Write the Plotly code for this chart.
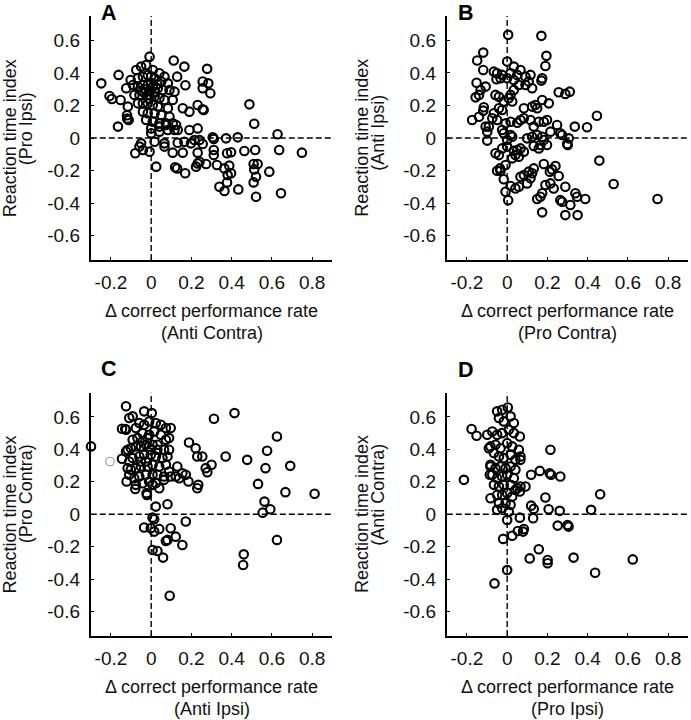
import plotly.graph_objects as go

# ---------------- data ----------------
a_points = [
    (-0.248, 0.336), (-0.162, 0.388), (-0.207, 0.258), (-0.195, 0.24), (-0.152, 0.234), (-0.165, 0.07),
    (-0.119, 0.119), (-0.112, 0.111), (-0.12, 0.14), (-0.116, 0.193), (-0.124, 0.306), (-0.102, 0.357),
    (-0.008, 0.5), (0.112, 0.476), (0.165, 0.439), (0.129, 0.377), (0.17, 0.324), (0.278, 0.425),
    (0.256, 0.347), (0.284, 0.336), (0.256, 0.306), (0.294, 0.275), (0.231, 0.203), (0.256, 0.176),
    (0.261, 0.172), (0.19, 0.162), (0.157, 0.183), (0.488, 0.207), (0.512, 0.088), (0.628, 0.023),
    (0.636, -0.074), (0.749, -0.09), (0.645, -0.34), (0.521, -0.361), (0.517, -0.074), (0.509, -0.16),
    (0.529, -0.16), (0.512, -0.193), (0.521, -0.238), (0.509, -0.273), (0.587, -0.207), (0.463, -0.08),
    (0.43, 0.004), (0.372, -0.002), (0.306, 0.004), (0.311, -0.006), (0.311, -0.074), (0.311, -0.105),
    (0.377, -0.094), (0.397, -0.088), (0.388, -0.17), (0.364, -0.187), (0.397, -0.217), (0.38, -0.228),
    (0.377, -0.273), (0.339, -0.3), (0.364, -0.326), (0.433, -0.316), (0.273, -0.16), (0.231, -0.156),
    (0.223, -0.176), (0.327, -0.166), (0.169, -0.217), (0.119, -0.18), (0.129, -0.187), (0.025, -0.176),
    (-0.079, -0.094), (-0.05, -0.033), (-0.058, -0.053), (-0.041, -0.074), (-0.008, -0.084),
    (0.017, -0.023), (0.066, -0.033), (0.066, -0.053), (0.107, -0.09), (0.157, -0.09), (0.132, -0.029),
    (0.165, -0.023), (0.198, -0.033), (0.215, -0.012), (0.24, -0.012), (0.256, -0.037), (0.231, -0.09),
    (0.24, -0.146), (0.083, 0.049), (0.124, 0.08), (0.132, 0.049), (0.19, 0.049), (0.231, 0.059),
    (0.0, 0.029), (0.041, 0.07), (0.074, 0.08),
    (-0.074, 0.418), (-0.05, 0.439), (-0.025, 0.449), (0.008, 0.418), (0.041, 0.398), (0.066, 0.377),
    (-0.066, 0.367), (-0.041, 0.377), (-0.017, 0.388), (0.017, 0.367), (0.05, 0.347), (0.083, 0.336),
    (-0.091, 0.326), (-0.066, 0.316), (-0.041, 0.326), (-0.017, 0.326), (0.008, 0.316), (0.033, 0.306),
    (0.058, 0.295), (0.091, 0.295), (0.116, 0.285), (-0.083, 0.265), (-0.058, 0.265), (-0.033, 0.275),
    (-0.008, 0.265), (0.017, 0.254), (0.041, 0.244), (0.066, 0.234), (0.107, 0.234), (-0.066, 0.213),
    (-0.041, 0.213), (-0.017, 0.213), (0.008, 0.203), (0.033, 0.193), (0.083, 0.183), (-0.041, 0.162),
    (-0.017, 0.152), (0.017, 0.152), (0.05, 0.142), (0.091, 0.131), (-0.025, 0.111), (0.008, 0.1),
    (0.041, 0.09), (0.074, 0.09), (0.107, 0.09), (0.0, 0.059), (0.041, 0.039), (0.116, 0.049),
    (-0.008, 0.29), (0.0, 0.34), (-0.03, 0.30), (0.02, 0.28), (-0.01, 0.24), (0.03, 0.33), (-0.05, 0.29),
    (0.0, 0.38),
]

b_points = [
    (0.005, 0.634), (0.17, 0.628), (-0.119, 0.525), (-0.149, 0.476), (-0.119, 0.418), (0.195, 0.505),
    (0.19, 0.443), (0.174, 0.367), (0.17, 0.353), (-0.152, 0.34), (-0.107, 0.316), (-0.132, 0.295),
    (-0.157, 0.25), (-0.14, 0.265), (-0.116, 0.189), (-0.119, 0.168), (-0.174, 0.111), (-0.14, 0.131),
    (0.256, 0.281), (0.289, 0.271), (0.311, 0.285), (0.446, 0.137), (0.397, 0.066), (0.336, 0.07),
    (0.306, -0.002), (0.298, -0.037), (0.301, -0.043), (0.458, -0.139), (0.529, -0.283), (0.747, -0.375),
    (0.182, -0.16), (0.24, -0.172), (0.223, -0.193), (0.212, -0.207), (0.256, -0.234), (0.289, -0.3),
    (0.339, -0.34), (0.388, -0.375), (0.347, -0.361), (0.314, -0.412), (0.289, -0.474), (0.35, -0.474),
    (0.174, -0.457), (0.149, -0.375), (0.165, -0.361), (0.174, -0.34), (0.215, -0.279), (0.19, -0.289),
    (0.231, -0.31), (0.264, -0.382), (0.273, -0.392),
    (0.132, -0.187), (0.124, -0.217), (0.107, -0.207), (0.083, -0.228), (0.066, -0.238), (0.116, -0.248),
    (0.099, -0.279), (0.058, -0.3), (0.041, -0.31), (0.017, -0.295), (-0.008, -0.33), (0.005, -0.382),
    (-0.017, -0.254), (-0.033, -0.201), (-0.05, -0.201), (-0.036, -0.187), (-0.008, -0.166),
    (-0.058, -0.094), (-0.041, -0.105), (-0.025, -0.064), (0.0, -0.053), (0.033, -0.078), (0.05, -0.074),
    (0.066, -0.064), (0.083, -0.084), (0.058, -0.115), (0.025, -0.125), (0.041, -0.105),
    (0.0, -0.012), (-0.017, 0.029), (0.017, 0.018), (0.025, 0.008), (-0.025, 0.049),
    (-0.099, 0.039), (-0.091, 0.07), (-0.107, 0.07), (-0.099, -0.016),
    (0.099, -0.002), (0.124, 0.008), (0.149, 0.018), (0.174, 0.008), (0.165, -0.043), (0.132, -0.049),
    (0.157, -0.064), (0.182, -0.012), (0.198, -0.043),
    (0.215, 0.039), (0.248, 0.08), (0.264, 0.029), (0.273, 0.018),
    (0.132, 0.07), (0.157, 0.1), (0.182, 0.1), (0.198, 0.111), (0.116, 0.111),
    (0.083, 0.183), (0.124, 0.193), (0.149, 0.183), (0.174, 0.234), (0.207, 0.213), (0.14, 0.203),
    (0.083, 0.121), (0.066, 0.111), (0.05, 0.094), (0.017, 0.1), (-0.008, 0.09), (-0.05, 0.111),
    (-0.074, 0.121), (-0.066, 0.152), (-0.041, 0.183), (-0.025, 0.172),
    (-0.058, 0.265), (-0.041, 0.254), (-0.017, 0.224), (0.008, 0.244), (0.025, 0.224), (0.017, 0.265),
    (0.033, 0.295),
    (-0.05, 0.398), (-0.025, 0.388), (0.0, 0.367), (0.017, 0.398), (0.033, 0.357), (0.05, 0.388),
    (0.066, 0.418), (0.091, 0.377), (0.107, 0.347), (0.116, 0.388), (0.091, 0.326), (0.124, 0.306),
    (0.058, 0.326), (0.0, 0.47), (0.033, 0.439), (-0.066, 0.408), (-0.053, 0.361), (-0.033, 0.367),
]

c_points = [
    (-0.299, 0.418), (-0.125, 0.665), (-0.109, 0.593), (-0.092, 0.603), (-0.035, 0.634), (0.003, 0.623),
    (-0.129, 0.525), (-0.145, 0.342), (-0.122, 0.202), (-0.079, 0.156), (-0.023, 0.13), (-0.021, 0.119),
    (0.312, 0.588), (0.414, 0.623), (0.188, 0.442), (0.221, 0.407), (0.229, 0.356), (0.254, 0.356),
    (0.271, 0.284), (0.279, 0.259), (0.3, 0.305), (0.234, 0.181), (0.229, 0.16), (0.37, 0.356),
    (0.477, 0.335), (0.576, 0.391), (0.568, 0.284), (0.625, 0.479), (0.691, 0.298), (0.531, 0.187),
    (0.667, 0.136), (0.812, 0.126), (0.563, 0.078), (0.554, 0.01), (0.592, 0.031), (0.625, -0.158),
    (0.46, -0.247), (0.457, -0.313), (0.172, -0.045), (0.097, -0.086), (0.122, -0.138), (0.081, -0.158),
    (0.073, -0.165), (0.155, -0.189), (0.059, -0.267), (0.007, -0.22), (0.031, -0.226), (0.092, -0.502),
    (-0.035, -0.082), (-0.002, -0.086), (0.015, -0.107), (0.04, -0.091), (0.007, -0.021), (0.015, -0.031),
    (0.023, 0.047), (0.081, 0.062), (0.155, 0.253), (0.172, 0.243), (0.185, 0.202), (0.139, 0.222),
    (-0.145, 0.527), (-0.125, 0.521), (-0.076, 0.531), (-0.059, 0.562), (-0.035, 0.551), (-0.01, 0.572),
    (0.023, 0.562), (0.048, 0.551), (0.073, 0.531), (0.097, 0.531), (0.089, 0.469), (0.073, 0.459),
    (0.048, 0.49), (0.015, 0.51), (-0.01, 0.49), (-0.043, 0.5), (-0.068, 0.469), (-0.092, 0.459),
    (-0.117, 0.397), (-0.125, 0.387), (-0.101, 0.407), (-0.076, 0.418), (-0.051, 0.418), (-0.026, 0.428),
    (0.007, 0.428), (0.031, 0.428), (0.064, 0.397), (0.089, 0.397), (0.081, 0.356), (0.056, 0.346),
    (0.023, 0.356), (-0.002, 0.366), (-0.035, 0.366), (-0.059, 0.356), (-0.092, 0.346), (-0.109, 0.325),
    (-0.117, 0.284), (-0.101, 0.274), (-0.076, 0.284), (-0.051, 0.294), (-0.018, 0.294), (0.007, 0.305),
    (0.04, 0.294), (0.073, 0.305), (0.089, 0.263), (0.064, 0.233), (0.031, 0.243), (0.007, 0.243),
    (-0.026, 0.243), (-0.059, 0.233), (-0.084, 0.222), (-0.109, 0.243), (-0.076, 0.181), (-0.043, 0.191),
    (-0.01, 0.202), (0.023, 0.191), (0.064, 0.212), (0.097, 0.233), (0.13, 0.294), (0.122, 0.233),
    (-0.026, 0.325), (-0.051, 0.325), (-0.002, 0.397), (-0.018, 0.469), (-0.043, 0.449), (0.031, 0.397),
    (0.007, 0.181), (0.04, 0.16),
]
c_gray_points = [(-0.205, 0.325)]

d_points = [
    (-0.215, 0.212), (-0.177, 0.525), (-0.152, 0.484), (0.215, 0.397), (0.119, 0.243), (0.162, 0.267),
    (0.211, 0.253), (0.218, 0.243), (0.264, 0.233), (0.462, 0.123), (0.417, 0.027), (0.261, 0.021),
    (0.206, 0.031), (0.19, 0.103), (0.119, 0.053), (0.132, 0.033), (0.129, -0.025), (0.251, -0.07),
    (0.3, -0.066), (0.305, -0.076), (0.157, -0.216), (0.112, -0.272), (0.201, -0.282), (0.201, -0.302),
    (0.33, -0.267), (0.437, -0.36), (0.624, -0.278), (0.0, -0.344), (-0.063, -0.426), (-0.02, -0.152),
    (0.025, -0.132), (0.053, -0.103), (0.083, -0.091), (0.079, -0.107), (0.063, -0.021), (0.0, -0.035),
    (0.091, 0.171), (0.066, 0.335), (0.066, 0.356), (0.063, 0.479), (-0.083, 0.099), (-0.05, 0.027),
    (-0.05, 0.634), (-0.025, 0.644), (0.003, 0.658), (0.017, 0.603), (-0.041, 0.593), (-0.017, 0.572),
    (0.033, 0.562), (-0.074, 0.51), (-0.05, 0.49), (-0.025, 0.5), (0.008, 0.521), (0.033, 0.5),
    (-0.083, 0.418), (-0.058, 0.428), (-0.033, 0.407), (0.0, 0.438), (0.025, 0.418), (0.058, 0.397),
    (-0.066, 0.377), (-0.041, 0.356), (-0.017, 0.346), (0.017, 0.366), (0.041, 0.335), (-0.083, 0.305),
    (-0.058, 0.284), (-0.033, 0.294), (-0.008, 0.284), (0.017, 0.294), (0.041, 0.274), (-0.074, 0.243),
    (-0.05, 0.222), (-0.025, 0.233), (0.0, 0.243), (0.033, 0.222), (-0.066, 0.181), (-0.041, 0.171),
    (-0.017, 0.181), (0.017, 0.181), (0.05, 0.16), (-0.05, 0.119), (-0.025, 0.119), (0.0, 0.13),
    (0.025, 0.109), (-0.041, 0.068), (-0.008, 0.068), (0.017, 0.058), (-0.025, 0.037), (0.008, 0.016),
    (0.041, 0.15), (0.066, 0.171), (0.063, 0.14), (-0.086, 0.243), (-0.083, 0.294), (-0.091, 0.407),
    (-0.099, 0.49),
]

panel_letters = ["A", "B", "C", "D"]
y_title_main = "Reaction time index"
x_title_main = "Δ correct performance rate"
y_title_sub = ["(Pro Ipsi)", "(Anti Ipsi)", "(Pro Contra)", "(Anti Contra)"]
x_title_sub = ["(Anti Contra)", "(Pro Contra)", "(Anti Ipsi)", "(Pro Ipsi)"]

x_tick_vals = [-0.2, 0, 0.2, 0.4, 0.6, 0.8]
x_tick_text = ["-0.2", "0", "0.2", "0.4", "0.6", "0.8"]
y_tick_vals = [-0.6, -0.4, -0.2, 0, 0.2, 0.4, 0.6]
y_tick_text = ["-0.6", "-0.4", "-0.2", "0", "0.2", "0.4", "0.6"]

x_range = [-0.3, 0.9]
y_range = [-0.75, 0.75]

# ---------------- layout geometry (pixels) ----------------
W, H = 691, 720
FONT = "Liberation Sans, Arial, sans-serif"
col_px = [(90.8, 332.3), (446.8, 688.3)]
row_px = [(16.0, 260.0), (392.5, 636.0)]
letter_pos = [(109, 12.5), (466, 12.5), (109, 369.5), (466, 370.5)]
ytitle_off = [(-80.5, -64.5), (-85, -69)]  # per column: main line, sub line
ysub_center = [129, 133, 494, 495]
TITLE_SIZE = 18


def px_x(p):
    return p / W


def px_y(p):
    return 1 - p / H


fig = go.Figure()
all_points = [a_points, b_points, c_points, d_points]

annotations = []
shapes = []
for i in range(4):
    r, c = divmod(i, 2)
    xa = "x" if i == 0 else f"x{i+1}"
    ya = "y" if i == 0 else f"y{i+1}"
    pts = all_points[i]
    fig.add_trace(go.Scatter(
        x=[p[0] for p in pts], y=[p[1] for p in pts], mode="markers",
        marker=dict(symbol="circle-open", size=8.5, color="black", line=dict(width=2.1, color="black")),
        xaxis=xa, yaxis=ya, showlegend=False, cliponaxis=False, hoverinfo="x+y",
    ))
    if i == 2:
        fig.add_trace(go.Scatter(
            x=[p[0] for p in c_gray_points], y=[p[1] for p in c_gray_points], mode="markers",
            marker=dict(symbol="circle-open", size=8.5, color="#9a9a9a", line=dict(width=1.2, color="#9a9a9a")),
            xaxis=xa, yaxis=ya, showlegend=False, cliponaxis=False,
        ))
    x0, x1 = col_px[c]
    y0, y1 = row_px[r]
    axis_common = dict(
        showline=True, linecolor="black", linewidth=2, mirror=False,
        showgrid=False, zeroline=False, ticks="inside", ticklen=3, tickwidth=1,
        tickcolor="black", tickfont=dict(family=FONT, size=19, color="#111"),
    )
    xkey = "xaxis" if i == 0 else f"xaxis{i+1}"
    ykey = "yaxis" if i == 0 else f"yaxis{i+1}"
    fig.update_layout(**{
        xkey: dict(domain=[px_x(x0), px_x(x1)], range=x_range, anchor=ya,
                   tickvals=x_tick_vals, ticktext=x_tick_text, ticklabelstandoff=4, **axis_common),
        ykey: dict(domain=[px_y(y1), px_y(y0)], range=y_range, anchor=xa,
                   tickvals=y_tick_vals, ticktext=y_tick_text, ticklabelstandoff=5, **axis_common),
    })
    dash = dict(color="black", width=1.4, dash="6px,3px")
    shapes.append(dict(type="line", xref=xa, yref=ya, x0=0, x1=0, y0=y_range[0], y1=y_range[1], line=dash, layer="below"))
    shapes.append(dict(type="line", xref=xa, yref=ya, x0=x_range[0], x1=x_range[1], y0=0, y1=0, line=dash, layer="below"))

    zero_y = (y0 + y1) / 2
    lx, ly = letter_pos[i]
    annotations.append(dict(text=f"<b>{panel_letters[i]}</b>", x=px_x(lx), y=px_y(ly),
                            xref="paper", yref="paper", showarrow=False, xanchor="center", yanchor="middle",
                            font=dict(family=FONT, size=21.5, color="black")))
    om, osub = ytitle_off[c]
    annotations.append(dict(text=y_title_main, x=px_x(x0 + om), y=px_y(zero_y), textangle=-90,
                            xref="paper", yref="paper", showarrow=False, xanchor="center", yanchor="middle",
                            font=dict(family=FONT, size=TITLE_SIZE, color="#111")))
    annotations.append(dict(text=y_title_sub[i], x=px_x(x0 + osub), y=px_y(ysub_center[i]), textangle=-90,
                            xref="paper", yref="paper", showarrow=False, xanchor="center", yanchor="middle",
                            font=dict(family=FONT, size=TITLE_SIZE, color="#111")))
    xc = (x0 + x1) / 2
    annotations.append(dict(text=x_title_main, x=px_x(xc), y=px_y(y1 + 51),
                            xref="paper", yref="paper", showarrow=False, xanchor="center", yanchor="middle",
                            font=dict(family=FONT, size=TITLE_SIZE, color="#111")))
    annotations.append(dict(text=x_title_sub[i], x=px_x(xc), y=px_y(y1 + 72.5),
                            xref="paper", yref="paper", showarrow=False, xanchor="center", yanchor="middle",
                            font=dict(family=FONT, size=TITLE_SIZE, color="#111")))

fig.update_layout(
    width=W, height=H, margin=dict(l=0, r=0, t=0, b=0),
    paper_bgcolor="white", plot_bgcolor="white",
    annotations=annotations, shapes=shapes, showlegend=False,
    font=dict(family=FONT, size=18, color="#111"),
)

fig.write_html("out.html", config={"displayModeBar": False},
               post_script="document.body.style.margin='0';document.body.style.padding='0';")
